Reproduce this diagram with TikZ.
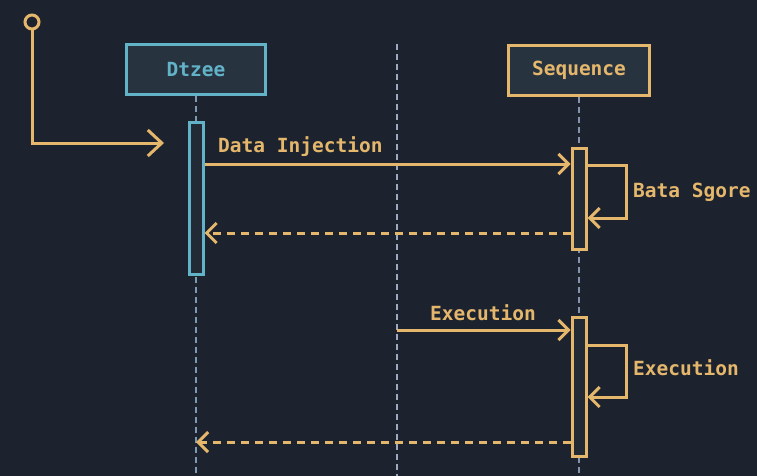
\documentclass[tikz,border=0pt]{standalone}
\usepackage{fontspec}
\setmonofont{DejaVu Sans Mono}
\usetikzlibrary{arrows.meta}
\definecolor{bg}{HTML}{1D232E}
\definecolor{boxfill}{HTML}{283340}
\definecolor{barfill}{HTML}{222A35}
\definecolor{tealc}{HTML}{62B2C8}
\definecolor{tanc}{HTML}{E4B76C}
\definecolor{lifec}{HTML}{8494AE}
\tikzset{
  lbl/.style={font=\ttfamily\bfseries\fontsize{19.5}{22}\selectfont, inner sep=0pt},
  actor/.style={draw, line width=3pt, fill=boxfill, minimum height=50pt, lbl},
  actbar/.style={draw, line width=3pt, fill=barfill, minimum width=14pt, inner sep=0pt},
  lifeline/.style={draw=lifec, line width=2.5pt, dash pattern=on 6pt off 4pt},
  msg/.style={draw=tanc, line width=3pt, -{Straight Barb[length=10pt,width=20pt,line width=3pt]}},
  reply/.style={msg, dash pattern=on 8pt off 6pt},
}
\begin{document}
\begin{tikzpicture}[x=1pt,y=-1pt]
\fill[bg] (0,0) rectangle (757,476);
\useasboundingbox (0,0) rectangle (757,476);

% participants
\node[actor, draw=tealc, text=tealc, minimum width=139pt] (dtz) at (196,70) {Dtzee};
\node[actor, draw=tanc, text=tanc, minimum width=141pt] (seq) at (579,70.5) {Sequence};

% lifelines
\coordinate (dtzend) at (196,476);
\coordinate (seqend) at (579,476);
\coordinate (midtop) at (397,44);
\coordinate (midend) at (397,476);
\draw[lifeline, draw=lifec!80!tealc] (dtz.south) -- (dtzend);
\draw[lifeline] (seq.south) -- (seqend);
\draw[lifeline, draw=lifec!80!white] (midtop) -- (midend);

% activation bars
\node[actbar, draw=tealc, minimum height=151pt] (a1) at (196,198.5) {};
\node[actbar, draw=tanc, minimum height=101pt] (a2) at (579,198.5) {};
\node[actbar, draw=tanc, minimum height=139pt] (a3) at (579,387) {};

% entry point
\node[draw=tanc, line width=3pt, circle, minimum size=14pt, inner sep=0pt] (start) at (32,22) {};
\coordinate (entry) at (164,143);
\draw[tanc, line width=3pt, -{Straight Barb[length=14pt,width=26pt,line width=3pt]}]
  (start.south) |- (entry);

% Data Injection
\draw[msg] (a1.east |- 0,164) -- (a2.west |- 0,164);
\node[lbl, text=tanc, anchor=base west] (m1) at (218,152) {Data Injection};

% self call
\coordinate (l1a) at (626,165);
\coordinate (l1b) at (626,218);
\draw[msg] (a2.east |- l1a) -- (l1a) -- (l1b) -- (a2.east |- l1b);
\node[lbl, text=tanc, anchor=base west] (m2) at (633,197) {Bata Sgore};

% return
\draw[reply] (a2.west |- 0,233) -- (a1.east |- 0,233);

% Execution
\draw[msg] (midtop |- 0,330) -- (a3.west |- 0,330);
\node[lbl, text=tanc, anchor=base west] (m3) at (430,320) {Execution};

\coordinate (l2a) at (626,345);
\coordinate (l2b) at (626,397);
\draw[msg] (a3.east |- l2a) -- (l2a) -- (l2b) -- (a3.east |- l2b);
\node[lbl, text=tanc, anchor=base west] (m4) at (633,375) {Execution};

\draw[reply] (a3.west |- 0,442) -- (dtzend |- 0,442);
\end{tikzpicture}
\end{document}
